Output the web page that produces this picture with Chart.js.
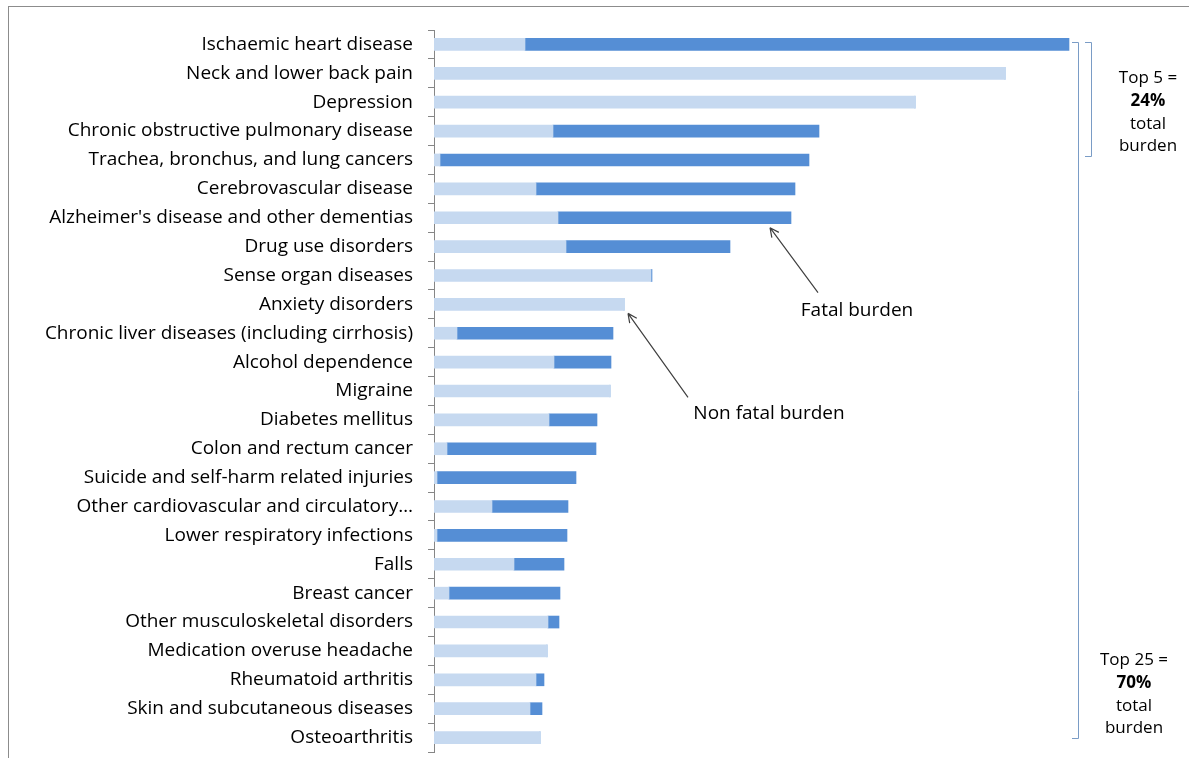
<!DOCTYPE html>
<html>
<head>
<meta charset="utf-8">
<script src="https://cdn.jsdelivr.net/npm/chart.js@4.4.1/dist/chart.umd.min.js"></script>
<style>
  html, body { margin: 0; padding: 0; background: #fff; }
  #wrap { position: relative; width: 1189px; height: 758px; }
  #frame { position: absolute; left: 8px; top: 6px; width: 1200px; height: 800px;
           border-top: 1px solid #8c8c8c; border-left: 1px solid #8c8c8c; }
  canvas { position: absolute; left: 0; top: 0; }
</style>
</head>
<body>
<div id="wrap">
  <div id="frame"></div>
  <canvas id="burdenChart" width="1189" height="758"></canvas>
</div>
<script>
// Doenças (do topo para baixo)
const categories = [
  'Ischaemic heart disease',
  'Neck and lower back pain',
  'Depression',
  'Chronic obstructive pulmonary disease',
  'Trachea, bronchus, and lung cancers',
  'Cerebrovascular disease',
  "Alzheimer's disease and other dementias",
  'Drug use disorders',
  'Sense organ diseases',
  'Anxiety disorders',
  'Chronic liver diseases (including cirrhosis)',
  'Alcohol dependence',
  'Migraine',
  'Diabetes mellitus',
  'Colon and rectum cancer',
  'Suicide and self-harm related injuries',
  'Other cardiovascular and circulatory\u2026',
  'Lower respiratory infections',
  'Falls',
  'Breast cancer',
  'Other musculoskeletal disorders',
  'Medication overuse headache',
  'Rheumatoid arthritis',
  'Skin and subcutaneous diseases',
  'Osteoarthritis'
];

// Carga não fatal e fatal (unidades)
const nonFatal = [91, 571, 481, 119, 6, 102, 124, 132, 217, 190, 23, 120, 176, 115, 13, 3, 58, 3, 80, 15, 114, 113, 102, 96, 106];
const fatal    = [544, 0, 0, 266, 369, 259, 233, 164, 1, 0, 156, 57, 0, 48, 149, 139, 76, 130, 50, 111, 11, 0, 8, 12, 0];

const xMax = 650;
const labelFont = '"Open Sans", sans-serif';

// Anotações: setas, colchetes e textos
const annotations = {
  id: 'annotations',
  afterDraw(chart) {
    const { ctx, scales } = chart;
    const x = scales.x, y = scales.y;

    function arrow(x1, y1, x2, y2) {
      ctx.save();
      ctx.strokeStyle = '#404040';
      ctx.lineWidth = 1.2;
      ctx.beginPath();
      ctx.moveTo(x1, y1);
      ctx.lineTo(x2, y2);
      const a = Math.atan2(y2 - y1, x2 - x1);
      const h = 10;
      ctx.moveTo(x2, y2);
      ctx.lineTo(x2 - h * Math.cos(a - 0.45), y2 - h * Math.sin(a - 0.45));
      ctx.moveTo(x2, y2);
      ctx.lineTo(x2 - h * Math.cos(a + 0.45), y2 - h * Math.sin(a + 0.45));
      ctx.stroke();
      ctx.restore();
    }

    // Fatal burden -> Alzheimer's
    const iA = 6;
    const tipA = x.getPixelForValue(nonFatal[iA] + fatal[iA]) - 21;
    const yA = y.getPixelForValue(iA) + 10;
    arrow(tipA + 48, yA + 65, tipA, yA);

    // Non fatal burden -> Anxiety
    const iN = 9;
    const tipN = x.getPixelForValue(nonFatal[iN] + fatal[iN]) + 4;
    const yN = y.getPixelForValue(iN) + 9;
    arrow(tipN + 60, yN + 84, tipN, yN);

    ctx.save();
    ctx.fillStyle = '#000';
    ctx.font = '19px ' + labelFont;
    ctx.textAlign = 'center';
    ctx.textBaseline = 'middle';
    ctx.fillText('Fatal burden', 857, 311);
    ctx.fillText('Non fatal burden', 769, 414);

    // Colchetes
    ctx.strokeStyle = '#7a9cc6';
    ctx.lineWidth = 1;
    const yTop = Math.round(y.getPixelForValue(0) - 2.5) + 0.5;
    const yTop5 = Math.round(y.getPixelForValue(4) - 4) + 0.5;
    const yBot = Math.round(y.getPixelForValue(24)) + 0.5;
    ctx.beginPath();
    ctx.moveTo(1072, yTop); ctx.lineTo(1078.5, yTop); ctx.lineTo(1078.5, yBot); ctx.lineTo(1072, yBot);
    ctx.moveTo(1085, yTop); ctx.lineTo(1091.5, yTop); ctx.lineTo(1091.5, yTop5); ctx.lineTo(1085, yTop5);
    ctx.stroke();

    ctx.font = '17px ' + labelFont;
    ctx.fillText('Top 5 =', 1148, 78);
    ctx.font = 'bold 17px ' + labelFont;
    ctx.fillText('24%', 1148, 101);
    ctx.font = '17px ' + labelFont;
    ctx.fillText('total', 1148, 124);
    ctx.fillText('burden', 1148, 146);

    ctx.fillText('Top 25 =', 1134, 660);
    ctx.font = 'bold 17px ' + labelFont;
    ctx.fillText('70%', 1134, 683);
    ctx.font = '17px ' + labelFont;
    ctx.fillText('total', 1134, 706);
    ctx.fillText('burden', 1134, 728);
    ctx.restore();
  }
};

const ctx = document.getElementById('burdenChart').getContext('2d');
const burdenChart = new Chart(ctx, {
  type: 'bar',
  data: {
    labels: categories,
    datasets: [
      { label: 'Non fatal burden', data: nonFatal, backgroundColor: '#c6d9f0', barThickness: 12 },
      { label: 'Fatal burden', data: fatal, backgroundColor: '#558ed5', barThickness: 12 }
    ]
  },
  options: {
    indexAxis: 'y',
    responsive: false,
    animation: false,
    layout: { padding: { top: 30, bottom: 6, left: 0, right: 1189 - 434 - 650 } },
    plugins: { legend: { display: false }, tooltip: { enabled: false } },
    scales: {
      x: { stacked: true, display: false, min: 0, max: xMax },
      y: {
        stacked: true,
        afterFit(scale) { scale.width = 434; scale.paddingTop = 0; scale.paddingBottom = 0; },
        border: { display: true, color: '#868686', width: 1 },
        grid: { drawOnChartArea: false, drawTicks: true, tickLength: 6, color: '#868686', offset: true },
        ticks: {
          autoSkip: false,
          padding: 15,
          color: '#000',
          font: { family: labelFont, size: 19 }
        }
      }
    }
  },
  plugins: [annotations]
});
</script>
</body>
</html>
